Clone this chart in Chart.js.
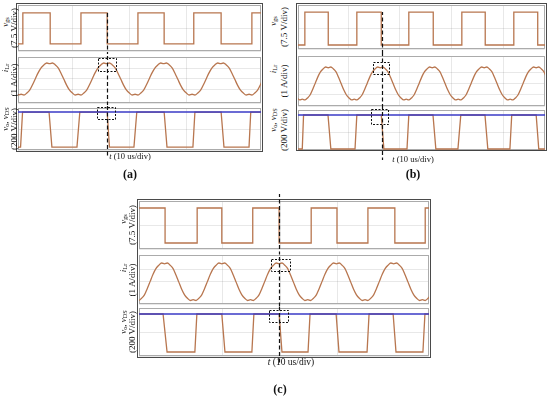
<!DOCTYPE html>
<html>
<head>
<meta charset="utf-8">
<script src="https://cdn.jsdelivr.net/npm/chart.js@4.4.1/dist/chart.umd.min.js"></script>
<style>
body{margin:0;background:#fff;width:550px;height:397px;position:relative;overflow:hidden;font-family:"Liberation Serif","Times New Roman",serif;color:#111;}
.frame{position:absolute;border:1.5px solid #4a4a4a;box-sizing:border-box;}
canvas{position:absolute;}
.lbl{position:absolute;white-space:nowrap;transform:translate(-50%,-50%) rotate(-90deg);font-size:9px;line-height:1;}
.txt{position:absolute;white-space:nowrap;transform:translate(-50%,-50%);line-height:1;}
sub{font-size:70%;vertical-align:-0.2em;line-height:0;}
</style>
</head>
<body>
<script>
// ---------- Data (time in us) ----------

// (a)
var vgsTimesA  = [0, 1.2, 6.0, 11.4, 16.0, 21.4, 26.0, 31.2, 36.0, 41.4, 43.4];
var vgsLevelsA = [0, 15, 0, 15, 0, 15, 0, 15, 0, 15, 15];
var vdsTimesA  = [0, 0.8, 1.15, 5.8, 6.3, 10.7, 11.2, 16.0, 16.4, 20.7, 21.2, 26.0, 26.5, 31.05, 31.4, 36.0, 36.5, 40.9, 41.2, 43.4];
var vdsValsA   = [0, 0, 400, 400, 0, 0, 400, 400, 0, 0, 400, 400, 0, 0, 400, 400, 0, 0, 400, 400];
var iLrStartA  = -0.1;   // first sample time, samples every 0.5 us
var iLrA = [
  -1.32, -1.5,
  -1.43, -1.5, -1.32, -1.05, -0.54, 0.03, 0.6, 1.05, 1.32, 1.5, 1.43, 1.5, 1.32, 1.05, 0.54, -0.03, -0.6, -1.05, -1.32, -1.5,
  -1.43, -1.5, -1.32, -1.05, -0.54, 0.03, 0.6, 1.05, 1.32, 1.5, 1.43, 1.5, 1.32, 1.05, 0.54, -0.03, -0.6, -1.05, -1.32, -1.5,
  -1.43, -1.5, -1.32, -1.05, -0.54, 0.03, 0.6, 1.05, 1.32, 1.5, 1.43, 1.5, 1.32, 1.05, 0.54, -0.03, -0.6, -1.05, -1.32, -1.5,
  -1.43, -1.5, -1.32, -1.05, -0.54, 0.03, 0.6, 1.05, 1.32, 1.5, 1.43, 1.5, 1.32, 1.05, 0.54, -0.03, -0.6, -1.05, -1.32, -1.5,
  -1.43, -1.5, -1.32, -1.05, -0.54, 0.03, 0.6
];

// (b)
var vgsTimesB  = [0, 1.7, 6.2, 11.7, 16.4, 21.7, 26.4, 31.9, 36.4, 41.9, 46.5, 48.3];
var vgsLevelsB = [0, 15, 0, 15, 0, 15, 0, 15, 0, 15, 0, 0];
var vdsTimesB  = [0, 1.2, 1.45, 6.15, 6.7, 11.35, 11.7, 16.4, 16.9, 21.35, 21.7, 26.35, 26.9, 31.15, 31.7, 36.35, 36.9, 41.15, 41.5, 46.2, 46.7, 48.3];
var vdsValsB   = [0, 0, 400, 400, 0, 0, 400, 400, 0, 0, 400, 400, 0, 0, 400, 400, 0, 0, 400, 400, 0, 0];
var iLrStartB  = -0.3;
var iLrB = [
  -1.05, -1.32, -1.5,
  -1.43, -1.5, -1.32, -1.05, -0.54, 0.03, 0.6, 1.05, 1.32, 1.5, 1.43, 1.5, 1.32, 1.05, 0.54, -0.03, -0.6, -1.05, -1.32, -1.5,
  -1.43, -1.5, -1.32, -1.05, -0.54, 0.03, 0.6, 1.05, 1.32, 1.5, 1.43, 1.5, 1.32, 1.05, 0.54, -0.03, -0.6, -1.05, -1.32, -1.5,
  -1.43, -1.5, -1.32, -1.05, -0.54, 0.03, 0.6, 1.05, 1.32, 1.5, 1.43, 1.5, 1.32, 1.05, 0.54, -0.03, -0.6, -1.05, -1.32, -1.5,
  -1.43, -1.5, -1.32, -1.05, -0.54, 0.03, 0.6, 1.05, 1.32, 1.5, 1.43, 1.5, 1.32, 1.05, 0.54, -0.03, -0.6, -1.05, -1.32, -1.5,
  -1.43, -1.5, -1.32, -1.05, -0.54, 0.03, 0.6, 1.05, 1.32, 1.5, 1.43, 1.5, 1.32, 1.05, 0.54, -0.03
];

// (c)
var vgsTimesC  = [-5, -0.1, 5.5, 9.8, 15.2, 19.8, 25.4, 29.9, 35.3, 40.0, 45.3, 46.3];
var vgsLevelsC = [15, 0, 15, 0, 15, 0, 15, 0, 15, 0, 15, 15];
var vdsTimesC  = [-5, -0.45, 0.25, 5.1, 5.45, 9.8, 10.35, 15.05, 15.4, 19.8, 20.3, 24.85, 25.2, 29.75, 30.25, 35.15, 35.5, 39.7, 40.2, 44.9, 45.25, 46.3];
var vdsValsC   = [400, 400, 0, 0, 400, 400, 0, 0, 400, 400, 0, 0, 400, 400, 0, 0, 400, 400, 0, 0, 400, 400];
var iLrStartC  = -5.2;
var iLrC = [
  -1.43, -1.5, -1.32, -1.05, -0.54, 0.03, 0.6, 1.05, 1.32, 1.5, 1.43, 1.5, 1.32, 1.05, 0.54, -0.03, -0.6, -1.05, -1.32, -1.5,
  -1.43, -1.5, -1.32, -1.05, -0.54, 0.03, 0.6, 1.05, 1.32, 1.5, 1.43, 1.5, 1.32, 1.05, 0.54, -0.03, -0.6, -1.05, -1.32, -1.5,
  -1.43, -1.5, -1.32, -1.05, -0.54, 0.03, 0.6, 1.05, 1.32, 1.5, 1.43, 1.5, 1.32, 1.05, 0.54, -0.03, -0.6, -1.05, -1.32, -1.5,
  -1.43, -1.5, -1.32, -1.05, -0.54, 0.03, 0.6, 1.05, 1.32, 1.5, 1.43, 1.5, 1.32, 1.05, 0.54, -0.03, -0.6, -1.05, -1.32, -1.5,
  -1.43, -1.5, -1.32, -1.05, -0.54, 0.03, 0.6, 1.05, 1.32, 1.5, 1.43, 1.5, 1.32, 1.05, 0.54, -0.03, -0.6, -1.05, -1.32, -1.5,
  -1.43, -1.5, -1.32, -1.05
];

var busVolts = 400;          // blue reference trace
var sampleStep = 0.5;        // us between current samples

// Axis labels
var traceLabels = [
  ['<i>v</i><sub>gs</sub>', '(7.5 V/div)'],
  ['<i>i</i><sub>Lr</sub>', '(1 A/div)'],
  ['<i>v</i><sub>o</sub>, <i>v</i><sub>DS</sub>', '(200 V/div)']
];
var yStep = [7.5, 1, 200];

// ---------- Layout ----------
var brown = '#b8764f';
var blue = '#3a3ac6';
var gridColor = 'rgba(0,0,0,0.09)';

var panels = [
  { tag: '(a)', frame: [16, 3, 247, 149], subX: [18, 243], subY: [[5, 46], [57, 46], [108, 42]],
    xMin: 0.35, xMax: 43.0, yRange: [[-3.4, 18.85], [-2.25, 2.06], [-34, 446]],
    vgs: [vgsTimesA, vgsLevelsA], iLr: [iLrStartA, iLrA], vds: [vdsTimesA, vdsValsA],
    cursor: 16.0, cursorFrom: 15, headPad: 3, tailPad: 8,
    boxI: [14.4, 17.5, 0.75, 1.97], boxV: [14.2, 17.4, 317, 455],
    labelX: [5, 14], tLabel: [130, 156, 8.5], tagPos: [130, 174] },
  { tag: '(b)', frame: [296, 3, 251, 148], subX: [298, 247], subY: [[5, 44], [56, 50], [110, 40]],
    xMin: 0.38, xMax: 47.9, yRange: [[-1.82, 18.2], [-2.05, 2.5], [-11.8, 459]],
    vgs: [vgsTimesB, vgsLevelsB], iLr: [iLrStartB, iLrB], vds: [vdsTimesB, vdsValsB],
    cursor: 16.5, cursorFrom: 15, headPad: 3, tailPad: 10,
    boxI: [14.8, 17.9, 0.86, 1.95], boxV: [14.4, 17.7, 294, 470],
    labelX: [273, 284], tLabel: [413, 159, 8.5], tagPos: [413, 174] },
  { tag: '(c)', frame: [137, 199, 294, 159], subX: [139, 290], subY: [[201, 48], [255, 49], [308, 48]],
    xMin: -4.65, xMax: 45.96, yRange: [[-2.57, 18.0], [-1.78, 2.14], [-42, 463]],
    vgs: [vgsTimesC, vgsLevelsC], iLr: [iLrStartC, iLrC], vds: [vdsTimesC, vdsValsC],
    cursor: 19.8, cursorFrom: null, headPad: 7, tailPad: 7,
    boxI: [18.4, 21.7, 0.86, 1.82], boxV: [18.0, 21.4, 315, 441],
    labelX: [123, 132], tLabel: [291, 363, 9.5], tagPos: [280, 389] }
];
var symbolShift = [-6, -12, -10];

// ---------- Utils ----------

var addDiv = function(cls, html, x, y, size, extra){
    var d = document.createElement('div');
    d.className = cls;
    d.innerHTML = html;
    d.style.left = x + 'px';
    d.style.top = y + 'px';
    if (size) d.style.fontSize = size + 'px';
    if (extra) d.style.cssText += extra;
    document.body.appendChild(d);
    return d;
};

var pairs = function(xs, ys){
    return xs.map(function(x, i){ return {x: x, y: ys[i]}; });
};

var samples = function(start, ys){
    return ys.map(function(y, i){ return {x: start + i * sampleStep, y: y}; });
};

// subplot border, cursor line and dashed box, all placed through the scales
var scopeMarks = function(opt){
    return {
        id: 'scopeMarks',
        beforeDatasetsDraw: function(chart){
            var a = chart.chartArea, ctx = chart.ctx;
            ctx.save();
            ctx.strokeStyle = '#ababab';
            ctx.lineWidth = 1;
            ctx.strokeRect(a.left + 0.5, a.top + 0.5, a.right - a.left - 1, a.bottom - a.top - 1);
            ctx.restore();
        },
        afterDatasetsDraw: function(chart){
            var ctx = chart.ctx, sx = chart.scales.x, sy = chart.scales.y;
            ctx.save();
            ctx.strokeStyle = '#111';
            if (opt.box) {
                var x0 = Math.round(sx.getPixelForValue(opt.box[0])) + 0.5;
                var x1 = Math.round(sx.getPixelForValue(opt.box[1])) + 0.5;
                var y0 = Math.round(sy.getPixelForValue(opt.box[3])) + 0.5;
                var y1 = Math.round(sy.getPixelForValue(opt.box[2])) + 0.5;
                ctx.lineWidth = 1;
                ctx.setLineDash([2, 1.5]);
                ctx.strokeRect(x0, y0, x1 - x0, y1 - y0);
            }
            var cx = Math.round(sx.getPixelForValue(opt.cursor)) + 0.5;
            var top = opt.cursorFrom == null ? 0 : sy.getPixelForValue(opt.cursorFrom);
            ctx.lineWidth = 1.2;
            ctx.setLineDash([4, 2.5]);
            ctx.lineDashOffset = -((opt.canvasTop + top) % 6.5);
            ctx.beginPath();
            ctx.moveTo(cx, top);
            ctx.lineTo(cx, chart.height);
            ctx.stroke();
            ctx.restore();
        }
    };
};

var makeTrace = function(p, k, datasets, padTop, padBottom, marks){
    var sx = p.subX, sy = p.subY[k];
    var canvas = document.createElement('canvas');
    canvas.width = sx[1];
    canvas.height = sy[1] + padTop + padBottom;
    canvas.style.left = sx[0] + 'px';
    canvas.style.top = (sy[0] - padTop) + 'px';
    document.body.appendChild(canvas);
    marks.canvasTop = sy[0] - padTop;

    return new Chart(canvas, {
        type: 'line',
        data: { datasets: datasets },
        options: {
            responsive: false,
            animation: false,
            events: [],
            layout: { padding: { top: padTop, bottom: padBottom, left: 0, right: 0 }, autoPadding: false },
            plugins: { legend: { display: false }, tooltip: { enabled: false } },
            elements: { point: { radius: 0 }, line: { borderWidth: 1.3 } },
            scales: {
                x: { type: 'linear', min: p.xMin, max: p.xMax,
                     ticks: { display: false, stepSize: 10 },
                     grid: { color: gridColor, drawTicks: false }, border: { display: false } },
                y: { type: 'linear', min: p.yRange[k][0], max: p.yRange[k][1],
                     ticks: { display: false, stepSize: yStep[k] },
                     grid: { color: gridColor, drawTicks: false }, border: { display: false } }
            }
        },
        plugins: [scopeMarks(marks)]
    });
};

// ---------- Build the three panels ----------
panels.forEach(function(p){
    var f = p.frame;
    var frame = addDiv('frame', '', f[0], f[1]);
    frame.style.width = f[2] + 'px';
    frame.style.height = f[3] + 'px';

    // paddings split the gaps so the cursor runs through them
    var gap1 = p.subY[1][0] - (p.subY[0][0] + p.subY[0][1]);
    var gap2 = p.subY[2][0] - (p.subY[1][0] + p.subY[1][1]);
    var pads = [
        [p.headPad, Math.floor(gap1 / 2)],
        [gap1 - Math.floor(gap1 / 2), Math.floor(gap2 / 2)],
        [gap2 - Math.floor(gap2 / 2), p.tailPad]
    ];

    makeTrace(p, 0, [{
        data: pairs(p.vgs[0], p.vgs[1]), borderColor: brown, stepped: 'before'
    }], pads[0][0], pads[0][1], { cursor: p.cursor, cursorFrom: p.cursorFrom });

    makeTrace(p, 1, [{
        data: samples(p.iLr[0], p.iLr[1]), borderColor: brown, cubicInterpolationMode: 'monotone'
    }], pads[1][0], pads[1][1], { cursor: p.cursor, box: p.boxI });

    makeTrace(p, 2, [
        { data: [{x: p.xMin, y: busVolts}, {x: p.xMax, y: busVolts}], borderColor: blue, borderWidth: 1.5 },
        { data: pairs(p.vds[0], p.vds[1]), borderColor: brown }
    ], pads[2][0], pads[2][1], { cursor: p.cursor, box: p.boxV });

    // rotated trace labels
    for (var k = 0; k < 3; k++) {
        var cy = p.subY[k][0] + p.subY[k][1] / 2;
        addDiv('lbl', traceLabels[k][0], p.labelX[0], cy + symbolShift[k]);
        addDiv('lbl', traceLabels[k][1], p.labelX[1], cy);
    }

    addDiv('txt', '<i>t</i> (10 us/div)', p.tLabel[0], p.tLabel[1], p.tLabel[2]);
    addDiv('txt', p.tag, p.tagPos[0], p.tagPos[1], 12, 'font-weight:bold;');
});
</script>
</body>
</html>
